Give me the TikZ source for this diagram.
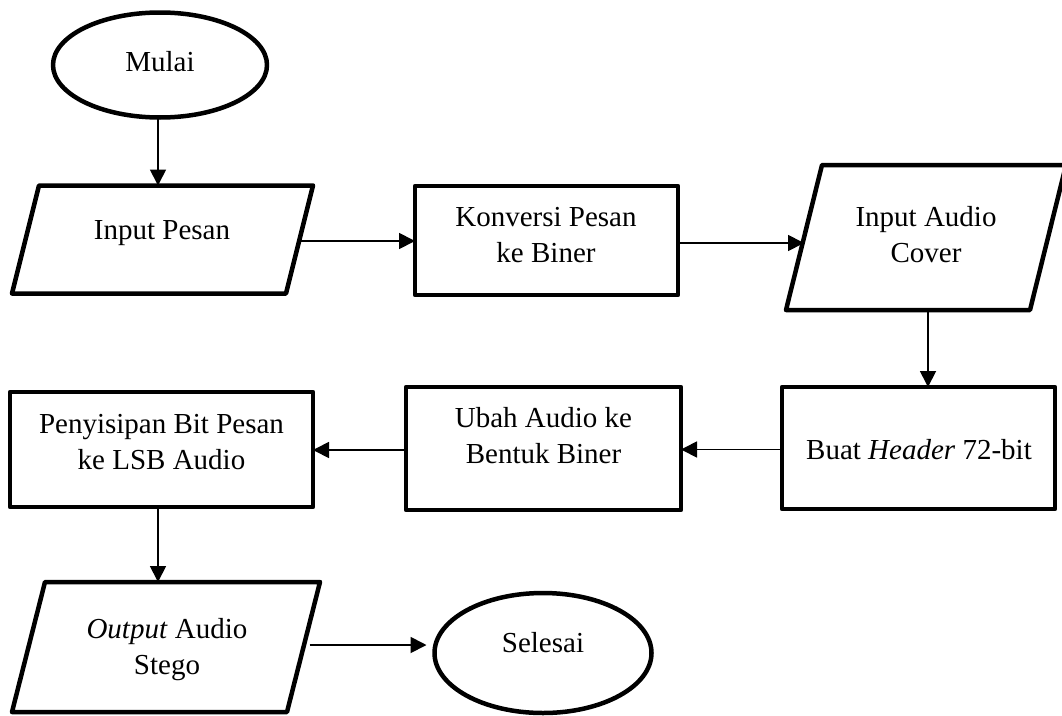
\documentclass[tikz,border=0pt]{standalone}
\usepackage{fontspec}
\setmainfont{Liberation Serif}
\usetikzlibrary{shapes.geometric,arrows.meta,calc}
\tikzset{
  shapebox/.style={draw=black, line width=4.5pt, line join=round, inner sep=0pt, outer sep=0pt},
  procbox/.style={shapebox, rectangle},
  termbox/.style={shapebox, ellipse},
  iobound/.style={rectangle, inner sep=0pt, outer sep=0pt},
  lbl/.style={align=center, inner sep=0pt, font=\fontsize{29}{36}\selectfont},
  flow/.style={draw=black, line width=1.8pt, -{Triangle[length=16pt,width=16pt]}}
}
\newcommand{\iopath}[2]{%
  \draw[shapebox] (#1.south west) -- ($(#1.north west)+(#2,0)$) -- (#1.north east)
     -- ($(#1.south east)-(#2,0)$) -- cycle;
  \coordinate (#1-e) at ($(#1.east)-(#2/2,0)$);
  \coordinate (#1-w) at ($(#1.west)+(#2/2,0)$);}
\begin{document}
\begin{tikzpicture}[x=1pt,y=-1pt]
\useasboundingbox (0,0) rectangle (1062,715);
% shapes
\node[termbox, minimum width=214pt, minimum height=105pt] (mulai) at (160,65) {};
\node[iobound, minimum width=301pt, minimum height=108pt] (ip) at (162.5,239.5) {};
\iopath{ip}{27}
\node[procbox, minimum width=263pt, minimum height=109pt] (kb) at (546.5,240.5) {};
\node[iobound, minimum width=280pt, minimum height=145pt] (iac) at (926,237.5) {};
\iopath{iac}{36}
\node[procbox, minimum width=273pt, minimum height=122pt] (buat) at (918.5,448) {};
\node[procbox, minimum width=275pt, minimum height=123pt] (ubah) at (543.5,448.5) {};
\node[procbox, minimum width=303pt, minimum height=115pt] (peny) at (161.5,449.5) {};
\node[iobound, minimum width=308pt, minimum height=130pt] (out) at (166,647) {};
\iopath{out}{33}
\node[termbox, minimum width=217pt, minimum height=120pt] (selesai) at (543,653) {};
% texts
\node[lbl] (t-mulai) at (160,62) {Mulai};
\node[lbl] (t-ip) at (162,233) {Input Pesan};
\node[lbl] (t-kb) at (546,235) {Konversi Pesan\\ke Biner};
\node[lbl] (t-iac) at (926,235) {Input Audio\\Cover};
\node[lbl] (t-buat) at (919,450) {Buat \textit{Header} 72-bit};
\node[lbl] (t-ubah) at (543.5,436) {Ubah Audio ke\\Bentuk Biner};
\node[lbl] (t-peny) at (161.5,442) {Penyisipan Bit Pesan\\ke LSB Audio};
\node[lbl] (t-out) at (167,650) {\textit{Output} Audio\\Stego};
\node[lbl] (t-selesai) at (543,643) {Selesai};
% connectors
\draw[flow] ([xshift=-2pt]mulai.south) -- ([xshift=-2pt]mulai.south |- ip.north);
\draw[flow] ([yshift=-1.5pt]ip-e) -- ([yshift=-1.5pt]ip-e -| kb.west);
\draw[flow] ([yshift=-2.5pt]kb.east) -- ([yshift=-2.5pt]kb.east -| iac-w);
\draw[flow] ([xshift=2pt]iac.south) -- ([xshift=2pt]iac.south |- buat.north);
\draw[flow] ([yshift=-1.5pt]buat.west) -- ([yshift=-1.5pt]buat.west -| ubah.east);
\draw[flow] ([yshift=-1.5pt]ubah.west) -- ([yshift=-1.5pt]ubah.west -| peny.east);
\draw[flow] ([xshift=-3.5pt]peny.south) -- ([xshift=-3.5pt]peny.south |- out.north);
\draw[flow, shorten <=6pt, shorten >=8pt] ([yshift=2pt]out-e) -- ([yshift=2pt]out-e -| selesai.west);
\end{tikzpicture}
\end{document}
